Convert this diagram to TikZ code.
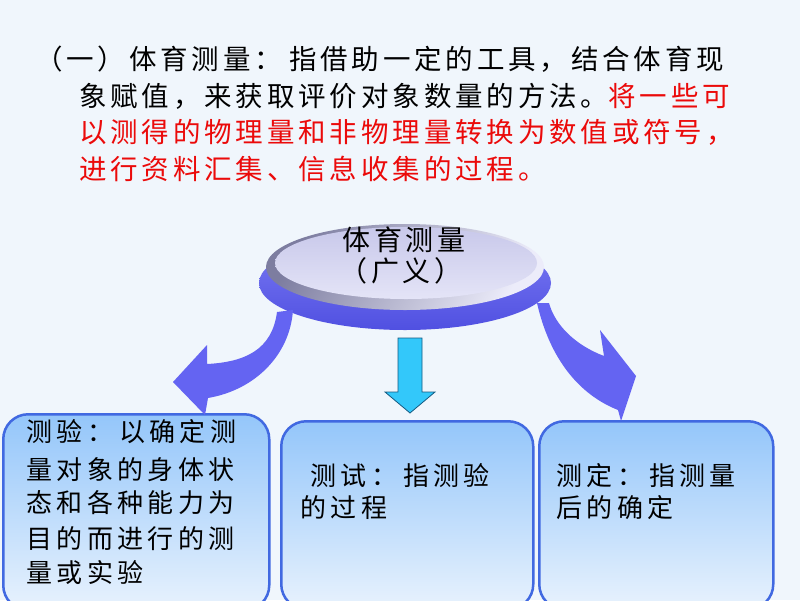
\documentclass[tikz,border=0pt]{standalone}
\usepackage{fontspec}
\usetikzlibrary{shapes.geometric}
\newfontfamily\cjktop{Noto Sans CJK SC}[LetterSpace=14]
\newfontfamily\cjkbox{Noto Sans CJK SC}[LetterSpace=17]
\newfontfamily\cjkdisk{Noto Sans CJK SC}[LetterSpace=13]
\definecolor{bgc}{RGB}{240,246,252}
\definecolor{boxline}{RGB}{65,105,225}
\definecolor{boxtop}{RGB}{148,198,250}
\definecolor{boxbot}{RGB}{232,242,253}
\definecolor{violet}{RGB}{100,100,242}
\definecolor{rimdark}{RGB}{80,80,225}
\definecolor{cyanfill}{RGB}{51,200,250}
\definecolor{cyanline}{RGB}{20,90,130}
\definecolor{faceA}{RGB}{125,125,160}
\definecolor{faceB}{RGB}{236,236,250}
\definecolor{innerA}{RGB}{200,200,234}
\definecolor{innerB}{RGB}{228,228,247}
\definecolor{redtxt}{RGB}{235,10,10}
\tikzset{
  box/.style={draw=boxline, line width=2.5pt, rounded corners=25pt, top color=boxtop, bottom color=boxbot, anchor=north west, inner sep=0},
  toptxt/.style={anchor=west, inner sep=0, text height=0.88em, text depth=0.12em, font=\cjktop\fontsize{27.5}{30}\selectfont},
  boxtxt/.style={anchor=west, inner sep=0, text height=0.88em, text depth=0.12em, font=\cjkbox\fontsize{26}{28}\selectfont},
  disktxt/.style={inner sep=0, text height=0.88em, text depth=0.12em, font=\cjkdisk\fontsize{28}{30}\selectfont},
  bentarrow/.style={fill=violet},
  downarrow/.style={fill=cyanfill, draw=cyanline, line width=0.8pt, line join=miter}
}
\begin{document}
\begin{tikzpicture}[x=1pt,y=-1pt]
\fill[bgc] (0,0) rectangle (800,600);
\useasboundingbox (0,0) rectangle (800,600);
\clip (0,0) rectangle (800,600);

% top text
\node[toptxt] (l1) at (35,66) {（一）体育测量：\hspace{7pt}指借助一定的工具，结合体育现};
\node[toptxt] (l2) at (79,103) {象赋值，来获取评价对象数量的方法。{\color{redtxt}将一些可}};
\node[toptxt, text=redtxt] (l3) at (79,139) {以测得的物理量和非物理量转换为数值或符号，};
\node[toptxt, text=redtxt] (l4) at (79,176) {进行资料汇集、信息收集的过程。};

% boxes
\node[box, minimum width=266pt, minimum height=196pt] (b1) at (2,413) {};
\node[box, minimum width=252pt, minimum height=188pt] (b2) at (280,420) {};
\node[box, minimum width=234pt, minimum height=188pt] (b3) at (538,420) {};

\node[boxtxt] (b1a) at (26,438) {测验：\hspace{6pt}以确定测};
\node[boxtxt] (b1b) at (26,476) {量对象的身体状};
\node[boxtxt] (b1c) at (26,509) {态和各种能力为};
\node[boxtxt] (b1d) at (26,545) {目的而进行的测};
\node[boxtxt] (b1e) at (26,579) {量或实验};

\node[boxtxt] (b2a) at (310,482) {测试：\hspace{6pt}指测验};
\node[boxtxt] (b2b) at (300,514) {的过程};

\node[boxtxt] (b3a) at (556,482) {测定：\hspace{6pt}指测量};
\node[boxtxt] (b3b) at (556,514) {后的确定};

% disk rim
\node[ellipse, minimum width=292pt, minimum height=94pt, inner sep=0, top color=violet!85!white, bottom color=rimdark] (rim) at (405,283) {};

% bent arrows
\fill[bentarrow] (277,312) .. controls (272,350) and (245,362) .. (207,364)
  -- (207,345) -- (173,382) -- (205,415) -- (208,398)
  .. controls (255,390) and (290,355) .. (293,310) -- cycle;
\fill[bentarrow] (537,303) .. controls (550,360) and (580,395) .. (618,410)
  -- (621,421) -- (636,376) -- (600,330) -- (604,356)
  .. controls (575,345) and (555,325) .. (549,303) -- cycle;

% disk face
\node[ellipse, minimum width=278pt, minimum height=86pt, inner sep=0, shading=axis, left color=faceA, right color=faceB, shading angle=60] (face) at (405,267) {};
\node[ellipse, minimum width=262pt, minimum height=72pt, inner sep=0, top color=innerA, bottom color=innerB] (inner) at (406,263) {};
\node[disktxt] (d1) at (404,247) {体育测量};
\node[disktxt] (d2) at (401,278) {（广义）};

% down arrow
\draw[downarrow] (398,338) -- (422,338) -- (422,392) -- (435,392) -- (410,413) -- (385,392) -- (398,392) -- cycle;
\end{tikzpicture}
\end{document}
